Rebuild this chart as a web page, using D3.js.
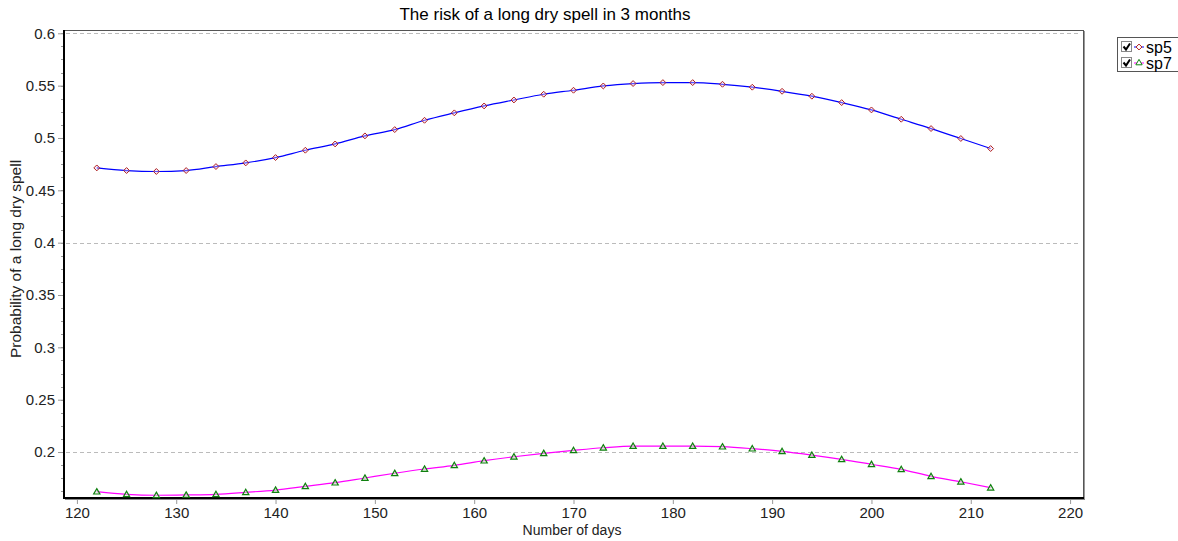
<!DOCTYPE html>
<html>
<head>
<meta charset="utf-8">
<title>dry spell risk</title>
<script src="https://cdn.jsdelivr.net/npm/d3@7"></script>
<style>
  body { margin: 0; background: #fff; }
  svg text { font-family: "Liberation Sans", Arial, sans-serif; fill: #222; }
  .tick text { font-size: 15px; }
</style>
</head>
<body>
<script>
// data
var days = [122,125,128,131,134,137,140,143,146,149,152,155,158,161,164,167,170,173,176,179,182,185,188,191,194,197,200,203,206,209,212];
var sp5 = [0.4714,0.4689,0.4680,0.4689,0.4727,0.4762,0.4813,0.4883,0.4943,0.5020,0.5080,0.5169,0.5240,0.5306,0.5363,0.5418,0.5456,0.5497,0.5520,0.5529,0.5529,0.5513,0.5485,0.5446,0.5399,0.5338,0.5268,0.5179,0.5090,0.4995,0.4899];
var sp7 = [0.1621,0.1596,0.1587,0.1590,0.1596,0.1615,0.1637,0.1672,0.1707,0.1752,0.1797,0.1838,0.1873,0.1917,0.1955,0.1988,0.2016,0.2041,0.2057,0.2057,0.2057,0.2051,0.2032,0.2007,0.1971,0.1930,0.1883,0.1835,0.1768,0.1716,0.1659];
var xTicks = [120,130,140,150,160,170,180,190,200,210,220];
var yTicks = [0.2,0.25,0.3,0.35,0.4,0.45,0.5,0.55,0.6];
var gridVals = [0.2,0.4,0.6];
var seriesNames = ["sp5","sp7"];

var width = 1178, height = 541;
var pL = 64, pT = 30, pR = 1083, pB = 498;

var svg = d3.select("body").append("svg")
  .attr("width", width).attr("height", height);

var x = d3.scaleLinear().domain([118.7, 221.3]).range([pL, pR]);
var y = d3.scaleLinear().domain([0.6 + 3.3/1047.5, 0.2 - 46/1047.5]).range([pT, pB]);

// title
svg.append("text")
  .attr("x", 545).attr("y", 20)
  .attr("text-anchor", "middle")
  .style("font-size", "17px").style("fill", "#000")
  .text("The risk of a long dry spell in 3 months");

// grid
svg.selectAll(".grid").data(gridVals).enter().append("line")
  .attr("x1", pL + 2).attr("x2", pR - 2)
  .attr("y1", function (d) { return Math.round(y(d)) + 0.5; })
  .attr("y2", function (d) { return Math.round(y(d)) + 0.5; })
  .attr("stroke", "#bbb").attr("stroke-dasharray", "4,3");

// minor y ticks
var minor = d3.range(0, 36).map(function (i) { return 0.1625 + i * 0.0125; })
  .filter(function (d) { return y(d) >= pT && y(d) <= pB; });
svg.selectAll(".minor").data(minor).enter().append("line")
  .attr("x1", pL - 3).attr("x2", pL)
  .attr("y1", function (d) { return Math.round(y(d)) + 0.5; })
  .attr("y2", function (d) { return Math.round(y(d)) + 0.5; })
  .attr("stroke", "#999");

var xAxis = d3.axisBottom(x).tickValues(xTicks).tickSize(6).tickPadding(3).tickFormat(d3.format("d"));
var gx = svg.append("g").attr("class", "axis")
  .attr("transform", "translate(0," + pB + ")").call(xAxis);
gx.select(".domain").remove();
gx.selectAll(".tick line").attr("stroke", "#999");

var yAxis = d3.axisLeft(y).tickValues(yTicks).tickSize(6).tickPadding(3).tickFormat(function (d) { return String(+d.toFixed(2)); });
var gy = svg.append("g").attr("class", "axis")
  .attr("transform", "translate(" + pL + ",0)").call(yAxis);
gy.select(".domain").remove();
gy.selectAll(".tick line").attr("stroke", "#999");

// frame
svg.append("rect").attr("x", pL + 0.5).attr("y", pT + 0.5)
  .attr("width", pR - pL).attr("height", pB - pT)
  .attr("fill", "none").attr("stroke", "#555");
svg.append("line").attr("x1", pR + 1.5).attr("x2", pR + 1.5).attr("y1", pT + 1).attr("y2", pB + 2)
  .attr("stroke", "#999");
svg.append("line").attr("x1", pL).attr("x2", pL).attr("y1", pT).attr("y2", pB + 1)
  .attr("stroke", "#000").attr("stroke-width", 2);
svg.append("line").attr("x1", pL).attr("x2", pR + 1).attr("y1", pB).attr("y2", pB)
  .attr("stroke", "#000").attr("stroke-width", 2);
svg.append("line").attr("x1", pL + 1).attr("x2", pR + 2).attr("y1", pB + 1.5).attr("y2", pB + 1.5)
  .attr("stroke", "#888");

// series
var line = d3.line()
  .x(function (d, i) { return x(days[i]); })
  .y(function (d) { return y(d); })
  .curve(d3.curveMonotoneX);

svg.append("path").datum(sp5).attr("d", line)
  .attr("fill", "none").attr("stroke", "#0000ff").attr("stroke-width", 1.2);
svg.append("path").datum(sp7).attr("d", line)
  .attr("fill", "none").attr("stroke", "#ff00ff").attr("stroke-width", 1.2);

var diamond = d3.symbol().type(d3.symbolDiamond2).size(22);
var triangle = d3.symbol().type(d3.symbolTriangle2).size(28);

svg.selectAll(".p5").data(sp5).enter().append("path")
  .attr("d", diamond)
  .attr("transform", function (d, i) { return "translate(" + x(days[i]) + "," + y(d) + ")"; })
  .attr("fill", "#e8d0f0").attr("fill-opacity", 0.4).attr("stroke", "#b02020").attr("stroke-width", 1);

svg.selectAll(".p7").data(sp7).enter().append("path")
  .attr("d", triangle)
  .attr("transform", function (d, i) { return "translate(" + x(days[i]) + "," + (y(d) + 0.5) + ")"; })
  .attr("fill", "#d8f0d0").attr("fill-opacity", 0.5).attr("stroke", "#108010").attr("stroke-width", 1.2);

// axis labels
svg.append("text")
  .attr("x", 572).attr("y", 535)
  .attr("text-anchor", "middle").style("font-size", "14px")
  .text("Number of days");
svg.append("text")
  .attr("transform", "translate(21,259) rotate(-90)")
  .attr("text-anchor", "middle").style("font-size", "15.5px")
  .text("Probability of a long dry spell");

// legend
var lg = svg.append("g").attr("transform", "translate(1117,37)");
lg.append("rect").attr("x", 0.5).attr("y", 0.5).attr("width", 64).attr("height", 34)
  .attr("fill", "#fff").attr("stroke", "#555");
var colors = ["#0000ff", "#ff00ff"];
var markStroke = ["#b02020", "#108010"];
var marks = [diamond, triangle];
seriesNames.forEach(function (name, i) {
  var g = lg.append("g").attr("transform", "translate(0," + (3 + i * 16) + ")");
  g.append("rect").attr("x", 4.5).attr("y", 1.5).attr("width", 10).attr("height", 10)
    .attr("fill", "#fff").attr("stroke", "#888");
  g.append("path").attr("d", "M6.5,6.5 L9,9.5 L13,3.5").attr("fill", "none")
    .attr("stroke", "#000").attr("stroke-width", 2);
  g.append("line").attr("x1", 17).attr("x2", 27).attr("y1", 7).attr("y2", 7)
    .attr("stroke", colors[i]);
  g.append("path").attr("d", marks[i]).attr("transform", "translate(22,7)")
    .attr("fill", "#fff").attr("stroke", markStroke[i]);
  g.append("text").attr("x", 29).attr("y", 13).style("font-size", "16px").style("fill", "#000")
    .text(name);
});
</script>
</body>
</html>
